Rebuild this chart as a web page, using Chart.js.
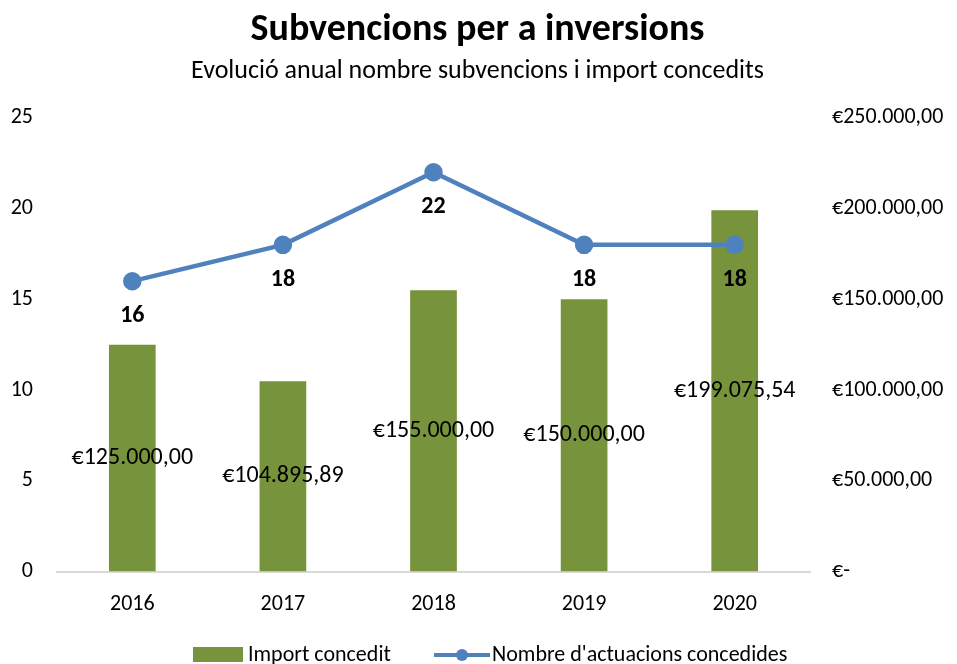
<!DOCTYPE html>
<html>
<head>
<meta charset="utf-8">
<script src="https://cdn.jsdelivr.net/npm/chart.js@4.4.0/dist/chart.umd.min.js"></script>
<style>
  html, body { margin: 0; padding: 0; background: #fff; }
  #wrap { width: 957px; height: 664px; }
</style>
</head>
<body>
<div id="wrap"><canvas id="myChart" width="957" height="664"></canvas></div>
<script>
// chart data
const years = ['2016', '2017', '2018', '2019', '2020'];
const importConcedit = [125000, 104895.89, 155000, 150000, 199075.54];
const nombreActuacions = [16, 18, 22, 18, 18];
const leftTicks = [0, 5, 10, 15, 20, 25];
const rightTicks = [0, 50000, 100000, 150000, 200000, 250000];

const FONT = "Carlito, Calibri, 'Liberation Sans Narrow', 'Open Sans', sans-serif";
const GREEN = '#77933C';
const BLUE = '#4F81BD';

// euro format like 125.000,00
function euro(v) {
    if (v === 0) return '€-';
    let parts = v.toFixed(2).split('.');
    let intPart = parts[0].replace(/\B(?=(\d{3})+(?!\d))/g, '.');
    return '€' + intPart + ',' + parts[1];
}

// draws the value labels on bars and line
const valueLabels = {
    id: 'valueLabels',
    afterDatasetsDraw(chart) {
        const ctx = chart.ctx;
        ctx.save();
        ctx.textAlign = 'center';
        ctx.textBaseline = 'middle';
        ctx.fillStyle = '#000';
        let barMeta = chart.getDatasetMeta(1);
        barMeta.data.forEach((el, i) => {
            ctx.font = '24px ' + FONT;
            ctx.fillText(euro(importConcedit[i]), el.x, (el.y + el.base) / 2);
        });
        let lineMeta = chart.getDatasetMeta(0);
        lineMeta.data.forEach((el, i) => {
            ctx.font = 'bold 24px ' + FONT;
            ctx.fillText(nombreActuacions[i], el.x, el.y + 35);
        });
        ctx.restore();
    }
};

// legend drawn by hand to get the line-with-dot marker
const customLegend = {
    id: 'customLegend',
    afterDraw(chart) {
        const ctx = chart.ctx;
        const y = 655;
        ctx.save();
        ctx.fillStyle = GREEN;
        ctx.fillRect(193, 647, 50, 15);
        ctx.fillStyle = '#000';
        ctx.font = '22px ' + FONT;
        ctx.textBaseline = 'middle';
        ctx.textAlign = 'left';
        ctx.fillText('Import concedit', 248, y);
        ctx.strokeStyle = BLUE;
        ctx.lineWidth = 4;
        ctx.beginPath();
        ctx.moveTo(434, y);
        ctx.lineTo(490, y);
        ctx.stroke();
        ctx.fillStyle = BLUE;
        ctx.beginPath();
        ctx.arc(462, y, 6, 0, Math.PI * 2);
        ctx.fill();
        ctx.fillStyle = '#000';
        ctx.fillText("Nombre d'actuacions concedides", 492, y);
        ctx.restore();
    }
};

let ctx = document.getElementById('myChart').getContext('2d');
let chart = new Chart(ctx, {
    data: {
        labels: years,
        datasets: [{
            type: 'line',
            label: "Nombre d'actuacions concedides",
            data: nombreActuacions,
            yAxisID: 'y',
            borderColor: BLUE,
            backgroundColor: BLUE,
            borderWidth: 4.5,
            pointRadius: 7,
            pointHoverRadius: 7,
            tension: 0,
            order: 0
        }, {
            type: 'bar',
            label: 'Import concedit',
            data: importConcedit,
            yAxisID: 'y1',
            backgroundColor: GREEN,
            barPercentage: 0.62,
            categoryPercentage: 0.5,
            order: 1
        }]
    },
    options: {
        responsive: false,
        animation: false,
        layout: { padding: { left: 8, right: 10, bottom: 34, top: 0 } },
        plugins: {
            legend: { display: false },
            tooltip: { enabled: false },
            title: {
                display: true,
                text: 'Subvencions per a inversions',
                color: '#000',
                font: { family: FONT, size: 38, weight: 'bold' },
                padding: { top: 8, bottom: 2 }
            },
            subtitle: {
                display: true,
                text: 'Evolució anual nombre subvencions i import concedits',
                color: '#000',
                font: { family: FONT, size: 26 },
                padding: { top: 0, bottom: 31 }
            }
        },
        scales: {
            x: {
                grid: { display: false },
                border: { color: '#D9D9D9', width: 2 },
                ticks: { color: '#000', font: { family: FONT, size: 22 }, padding: 12 }
            },
            y: {
                position: 'left',
                min: 0, max: 25,
                afterBuildTicks: (axis) => { axis.ticks = leftTicks.map(v => ({ value: v })); },
                afterFit: (axis) => { axis.width = 49; },
                grid: { display: false },
                border: { display: false },
                ticks: { color: '#000', font: { family: FONT, size: 22 }, padding: 16 }
            },
            y1: {
                position: 'right',
                min: 0, max: 250000,
                afterBuildTicks: (axis) => { axis.ticks = rightTicks.map(v => ({ value: v })); },
                afterFit: (axis) => { axis.width = 137; },
                grid: { display: false },
                border: { display: false },
                ticks: {
                    color: '#000', font: { family: FONT, size: 22 }, padding: 14,
                    callback: (v) => euro(v)
                }
            }
        }
    },
    plugins: [valueLabels, customLegend]
});
</script>
</body>
</html>
